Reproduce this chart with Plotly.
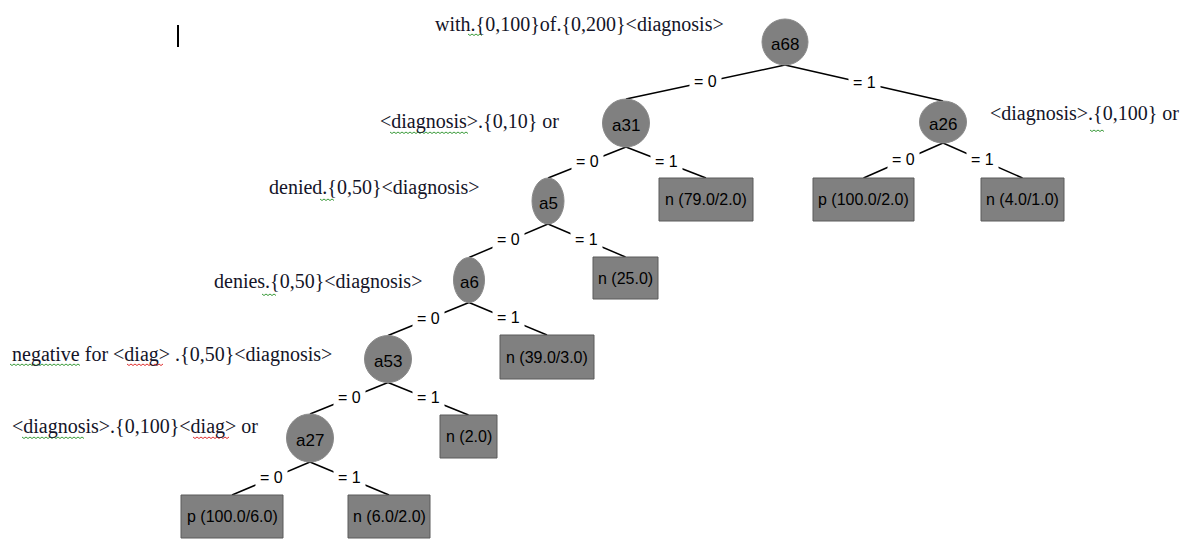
import numpy as np
import plotly.graph_objects as go

# ---------------- data ----------------
inner_nodes = ["a68", "a31", "a26", "a5", "a6", "a53", "a27"]
leaf_ids = ["L79", "P100_2", "L4", "L25", "L39", "L2", "P100_6", "L6"]
leaf_labels = ["n (79.0/2.0)", "p (100.0/2.0)", "n (4.0/1.0)", "n (25.0)",
               "n (39.0/3.0)", "n (2.0)", "p (100.0/6.0)", "n (6.0/2.0)"]
edge_parent = ["a68", "a68", "a31", "a31", "a26", "a26", "a5", "a5",
               "a6", "a6", "a53", "a53", "a27", "a27"]
edge_child = ["a31", "a26", "a5", "L79", "P100_2", "L4", "a6", "L25",
              "a53", "L39", "a27", "L2", "P100_6", "L6"]
edge_values = ["= 0", "= 1", "= 0", "= 1", "= 0", "= 1", "= 0", "= 1",
               "= 0", "= 1", "= 0", "= 1", "= 0", "= 1"]
rule_texts = [
    "with.{0,100}of.{0,200}<diagnosis>",
    "<diagnosis>.{0,10} or",
    "<diagnosis>.{0,100} or",
    "denied.{0,50}<diagnosis>",
    "denies.{0,50}<diagnosis>",
    "negative for <diag> .{0,50}<diagnosis>",
    "<diagnosis>.{0,100}<diag> or",
]

# ---------------- layout (pixel positions) ----------------
node_geom = {  # cx, cy, w, h
    "a68": (785, 42, 46, 46),
    "a31": (626, 123, 47, 48),
    "a26": (943, 122, 47, 42),
    "a5": (548, 201, 32, 46),
    "a6": (469, 280, 31, 45),
    "a53": (388, 359, 47, 47),
    "a27": (310, 438, 47, 48),
}
leaf_geom = {  # x0, x1, y0, y1
    "L79": (659, 753, 178, 221),
    "P100_2": (813, 914, 178, 221),
    "L4": (981, 1064, 178, 221),
    "L25": (593, 658, 257, 299),
    "L39": (500, 594, 335, 379),
    "L2": (440, 497, 415, 458),
    "P100_6": (181, 283, 495, 538),
    "L6": (348, 430, 495, 538),
}
rule_pos = [(433, 24), (378, 121), (988, 113), (267, 187), (212, 281), (10, 354), (10, 426)]
squiggles = [  # x0, x1, y, color
    (468, 483, 34, "#3a9a3a"), (390, 468, 132, "#3a9a3a"), (1090, 1105, 130, "#3a9a3a"),
    (320, 335, 199, "#3a9a3a"), (262, 277, 294, "#3a9a3a"),
    (10, 80, 364, "#3a9a3a"), (127, 163, 364, "#e03030"),
    (22, 85, 437, "#3a9a3a"), (193, 230, 437, "#e03030"),
]

SANS = "Liberation Sans Narrow, Arial Narrow, Liberation Sans, Arial, sans-serif"
SERIF = "Liberation Serif, Times New Roman, serif"
GRAY = "#808080"

fig = go.Figure()
shapes = []
annotations = []


def top_of(n):
    if n in node_geom:
        cx, cy, w, h = node_geom[n]
        return cx, cy - h / 2
    x0, x1, y0, y1 = leaf_geom[n]
    return (x0 + x1) / 2, y0


def bottom_of(n):
    cx, cy, w, h = node_geom[n]
    return cx, cy + h / 2


# edges
ex, ey = [], []
for p, c, v in zip(edge_parent, edge_child, edge_values):
    x0, y0 = bottom_of(p)
    x1, y1 = top_of(c)
    ex += [x0, x1, None]
    ey += [y0, y1, None]
    annotations.append(dict(x=(x0 + x1) / 2, y=(y0 + y1) / 2 - 1, text=v, showarrow=False,
                            font=dict(family=SANS, size=16, color="black"),
                            bgcolor="white", borderpad=4, xanchor="center", yanchor="middle"))
fig.add_trace(go.Scatter(x=ex, y=ey, mode="lines", line=dict(color="black", width=1.5),
                         hoverinfo="skip", showlegend=False))

# inner nodes
for n in inner_nodes:
    cx, cy, w, h = node_geom[n]
    shapes.append(dict(type="circle", xref="x", yref="y", x0=cx - w / 2, x1=cx + w / 2,
                       y0=cy - h / 2, y1=cy + h / 2, fillcolor=GRAY,
                       line=dict(color="#8a8a8a", width=1)))
    annotations.append(dict(x=cx, y=cy + 2, text=n, showarrow=False,
                            font=dict(family=SANS, size=17, color="black"),
                            xanchor="center", yanchor="middle"))

# leaves
for lid, lab in zip(leaf_ids, leaf_labels):
    x0, x1, y0, y1 = leaf_geom[lid]
    shapes.append(dict(type="rect", xref="x", yref="y", x0=x0, x1=x1, y0=y0, y1=y1,
                       fillcolor=GRAY, line=dict(color="#5a5a5a", width=1)))
    annotations.append(dict(x=(x0 + x1) / 2, y=(y0 + y1) / 2, text=lab, showarrow=False,
                            font=dict(family=SANS, size=16, color="black"),
                            xanchor="center", yanchor="middle"))

# rule texts
for t, (x, y) in zip(rule_texts, rule_pos):
    annotations.append(dict(x=x, y=y, text=t.replace("<", "&lt;").replace(">", "&gt;"),
                            showarrow=False, font=dict(family=SERIF, size=20, color="#141428"),
                            xanchor="left", yanchor="middle"))

# spell-check squiggles
for x0, x1, y, col in squiggles:
    xs = np.arange(x0, x1 + 1, 2)
    ys = y + 1.5 * (np.arange(len(xs)) % 2)
    fig.add_trace(go.Scatter(x=xs, y=ys, mode="lines", line=dict(color=col, width=1),
                             hoverinfo="skip", showlegend=False))

# text cursor
shapes.append(dict(type="line", xref="x", yref="y", x0=178, x1=178, y0=25, y1=47,
                   line=dict(color="black", width=2)))

fig.update_layout(
    width=1202, height=540, margin=dict(l=0, r=0, t=0, b=0),
    paper_bgcolor="white", plot_bgcolor="white",
    xaxis=dict(range=[0, 1202], visible=False, fixedrange=True),
    yaxis=dict(range=[540, 0], visible=False, fixedrange=True),
    shapes=shapes, annotations=annotations, showlegend=False,
)
fig.write_html("out.html", config={"displayModeBar": False},
               post_script="document.body.style.margin='0';")
